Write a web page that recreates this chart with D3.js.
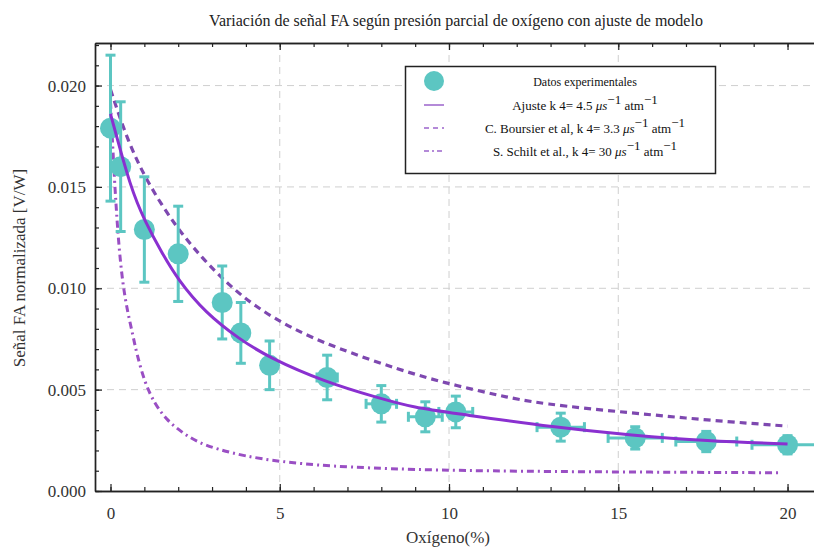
<!DOCTYPE html>
<html>
<head>
<meta charset="utf-8">
<script src="https://cdn.jsdelivr.net/npm/d3@7"></script>
<style>
  body { margin: 0; background: #fff; }
  svg { display: block; }
</style>
</head>
<body>
<svg width="814" height="548"></svg>
<script>
// measured data
const oxigeno = [0, 0.3, 1, 2, 3.3, 3.85, 4.7, 6.4, 8.0, 9.3, 10.2, 13.3, 15.5, 17.6, 20.0];
const senal = [0.0179, 0.0160, 0.0129, 0.0117, 0.0093, 0.0078, 0.0062, 0.0056, 0.0043, 0.00366, 0.0039, 0.00315, 0.00262, 0.00244, 0.00228];
const errY = [0.0036, 0.0032, 0.0026, 0.00235, 0.0018, 0.0015, 0.0012, 0.0011, 0.0009, 0.00074, 0.00078, 0.00069, 0.00055, 0.0005, 0.00045];
const errX = [0.05, 0.05, 0.1, 0.1, 0.15, 0.15, 0.2, 0.3, 0.45, 0.5, 0.5, 0.7, 0.8, 0.9, 1.05];

// curves
const ajusteX = [0, 0.6, 1.02, 1.5, 2, 2.8, 3.8, 4.66, 6.35, 7.9, 9, 10.1, 13.2, 15.4, 17.6, 20];
const ajusteY = [0.0186, 0.0149, 0.0133, 0.0118, 0.0104, 0.0088, 0.0075, 0.0066, 0.00537, 0.0046, 0.0041, 0.00385, 0.00312, 0.00275, 0.00247, 0.00232];

const boursierX = [0, 0.52, 1.1, 1.9, 2.7, 3.47, 4.27, 5.37, 6.6, 8.57, 10, 11.5, 12.7, 15.4, 17.6, 20];
const boursierY = [0.0198, 0.0172, 0.0152, 0.0131, 0.0115, 0.0102, 0.0091, 0.0080, 0.0071, 0.00595, 0.00528, 0.0047, 0.0043, 0.00385, 0.0035, 0.0032];

const schiltX = [0, 0.1, 0.23, 0.37, 0.51, 0.66, 0.77, 1.02, 1.31, 1.66, 2.1, 2.58, 3.18, 3.97, 4.95, 6.43, 8.9, 12, 16, 19.8];
const schiltY = [0.0192, 0.0158, 0.0123, 0.0101, 0.0088, 0.0077, 0.0068, 0.0053, 0.0043, 0.0035, 0.0029, 0.0024, 0.00205, 0.00172, 0.00146, 0.00122, 0.00105, 0.00097, 0.00093, 0.0009];

const xTicks = [0, 5, 10, 15, 20];
const yTicks = [0, 0.005, 0.010, 0.015, 0.020];

const serif = "'Liberation Serif', 'Times New Roman', serif";
const svg = d3.select("svg");
const mLeft = 95, mTop = 43, mBottom = 491, mRight = 818;

const x = d3.scaleLinear().domain([-0.458, 20.9]).range([mLeft, mRight]);
const y = d3.scaleLinear().domain([0, 0.0221]).range([mBottom, mTop]);

const teal = "#5cc6c2";
const purple = "#8a30d0";

// grid
svg.append("g").selectAll("line").data([5, 10, 15]).enter().append("line")
  .attr("x1", d => x(d)).attr("x2", d => x(d)).attr("y1", mTop).attr("y2", mBottom)
  .attr("stroke", "#cfcfcf").attr("stroke-width", 1).attr("stroke-dasharray", "7,5");
svg.append("g").selectAll("line").data([0.005, 0.010, 0.015, 0.020]).enter().append("line")
  .attr("y1", d => y(d)).attr("y2", d => y(d)).attr("x1", mLeft).attr("x2", mRight)
  .attr("stroke", "#cfcfcf").attr("stroke-width", 1).attr("stroke-dasharray", "7,5");

// frame + ticks
const xMinor = d3.range(0, 21, 1);
const yMinor = d3.range(0, 0.0221, 0.001);

const gxb = svg.append("g").attr("transform", `translate(0,${mBottom})`)
  .call(d3.axisBottom(x).tickValues(xTicks).tickFormat(d3.format("d")).tickSizeInner(-7).tickSizeOuter(0).tickPadding(16));
const gxbm = svg.append("g").attr("transform", `translate(0,${mBottom})`)
  .call(d3.axisBottom(x).tickValues(xMinor).tickFormat("").tickSizeInner(-4).tickSizeOuter(0));
const gxt = svg.append("g").attr("transform", `translate(0,${mTop})`)
  .call(d3.axisTop(x).tickValues(xTicks).tickFormat("").tickSizeInner(-7).tickSizeOuter(0));
const gxtm = svg.append("g").attr("transform", `translate(0,${mTop})`)
  .call(d3.axisTop(x).tickValues(xMinor).tickFormat("").tickSizeInner(-4).tickSizeOuter(0));

const gyl = svg.append("g").attr("transform", `translate(${mLeft},0)`)
  .call(d3.axisLeft(y).tickValues(yTicks).tickFormat(d3.format(".3f")).tickSizeInner(-7).tickSizeOuter(0).tickPadding(9));
const gylm = svg.append("g").attr("transform", `translate(${mLeft},0)`)
  .call(d3.axisLeft(y).tickValues(yMinor).tickFormat("").tickSizeInner(-4).tickSizeOuter(0));

[gxb, gxbm, gxt, gxtm, gyl, gylm].forEach(g => {
  g.selectAll(".domain").attr("stroke", "#222").attr("stroke-width", 1.4);
  g.selectAll(".tick line").attr("stroke", "#222").attr("stroke-width", 1.2);
  g.selectAll("text").attr("font-size", 17).attr("fill", "#333").style("font-family", serif);
});

// curves
const line = (xs, ys) => d3.line().x((d, i) => x(xs[i])).y(d => y(d)).curve(d3.curveBasis)(ys);

svg.append("path").attr("d", line(schiltX, schiltY)).attr("fill", "none")
  .attr("stroke", "#9a4fc4").attr("stroke-width", 3).attr("stroke-dasharray", "7,4,2,4");
svg.append("path").attr("d", line(boursierX, boursierY)).attr("fill", "none")
  .attr("stroke", "#7e48b0").attr("stroke-width", 3.2).attr("stroke-dasharray", "7,5");

// error bars
const eb = svg.append("g").attr("stroke", teal).attr("stroke-width", 3);
oxigeno.forEach((ox, i) => {
  const cx = x(ox), cy = y(senal[i]);
  const y1 = y(senal[i] + errY[i]), y2 = y(senal[i] - errY[i]);
  eb.append("line").attr("x1", cx).attr("x2", cx).attr("y1", y1).attr("y2", y2);
  eb.append("line").attr("x1", cx - 5).attr("x2", cx + 5).attr("y1", y1).attr("y2", y1);
  eb.append("line").attr("x1", cx - 5).attr("x2", cx + 5).attr("y1", y2).attr("y2", y2);
  const x1 = x(ox - errX[i]), x2 = x(ox + errX[i]);
  eb.append("line").attr("x1", x1).attr("x2", x2).attr("y1", cy).attr("y2", cy);
  eb.append("line").attr("x1", x1).attr("x2", x1).attr("y1", cy - 5).attr("y2", cy + 5);
  eb.append("line").attr("x1", x2).attr("x2", x2).attr("y1", cy - 5).attr("y2", cy + 5);
});

svg.append("g").selectAll("circle").data(senal).enter().append("circle")
  .attr("cx", (d, i) => x(oxigeno[i])).attr("cy", d => y(d)).attr("r", 10.5)
  .attr("fill", teal);

svg.append("path").attr("d", line(ajusteX, ajusteY)).attr("fill", "none")
  .attr("stroke", purple).attr("stroke-width", 3);

// legend
const lg = svg.append("g");
lg.append("rect").attr("x", 405.5).attr("y", 66.5).attr("width", 310).attr("height", 107)
  .attr("fill", "#fff").attr("stroke", "#222").attr("stroke-width", 1.5);
lg.append("circle").attr("cx", 434).attr("cy", 81).attr("r", 10).attr("fill", teal);
lg.append("line").attr("x1", 424).attr("x2", 444).attr("y1", 105).attr("y2", 105)
  .attr("stroke", "#b48ad8").attr("stroke-width", 2);
lg.append("line").attr("x1", 424).attr("x2", 444).attr("y1", 128).attr("y2", 128)
  .attr("stroke", "#b48ad8").attr("stroke-width", 2).attr("stroke-dasharray", "5,4");
lg.append("line").attr("x1", 424).attr("x2", 444).attr("y1", 151).attr("y2", 151)
  .attr("stroke", "#b48ad8").attr("stroke-width", 2).attr("stroke-dasharray", "5,3,2,3");

const legendRows = [
  { y: 86, size: 12, parts: ["Datos experimentales"] },
  { y: 110, size: 13, parts: ["Ajuste k 4= 4.5 ", "μs", "−1", " atm", "−1"] },
  { y: 133, size: 13, parts: ["C. Boursier et al, k 4= 3.3 ", "μs", "−1", " atm", "−1"] },
  { y: 156, size: 13, parts: ["S. Schilt et al., k 4= 30 ", "μs", "−1", " atm", "−1"] }
];
legendRows.forEach(r => {
  const t = lg.append("text").attr("x", 585).attr("y", r.y).attr("text-anchor", "middle")
    .attr("font-size", r.size).attr("fill", "#111").style("font-family", serif);
  r.parts.forEach((p, i) => {
    if (i === 2 || i === 4) {
      t.append("tspan").attr("dy", -6).text(p);
    } else {
      const ts = t.append("tspan").text(p);
      if (i === 3) ts.attr("dy", 6);
      if (i === 1) ts.attr("font-style", "italic");
    }
  });
});

// titles
svg.append("text").attr("x", 456).attr("y", 26).attr("text-anchor", "middle")
  .attr("font-size", 16).attr("fill", "#222").style("font-family", serif)
  .text("Variación de señal FA según presión parcial de oxígeno con ajuste de modelo");
svg.append("text").attr("x", 448).attr("y", 543).attr("text-anchor", "middle")
  .attr("font-size", 17).attr("fill", "#333").style("font-family", serif).text("Oxígeno(%)");
svg.append("text").attr("transform", "translate(25,268) rotate(-90)").attr("text-anchor", "middle")
  .attr("font-size", 17).attr("fill", "#333").style("font-family", serif).text("Señal FA normalizada [V/W]");
</script>
</body>
</html>
